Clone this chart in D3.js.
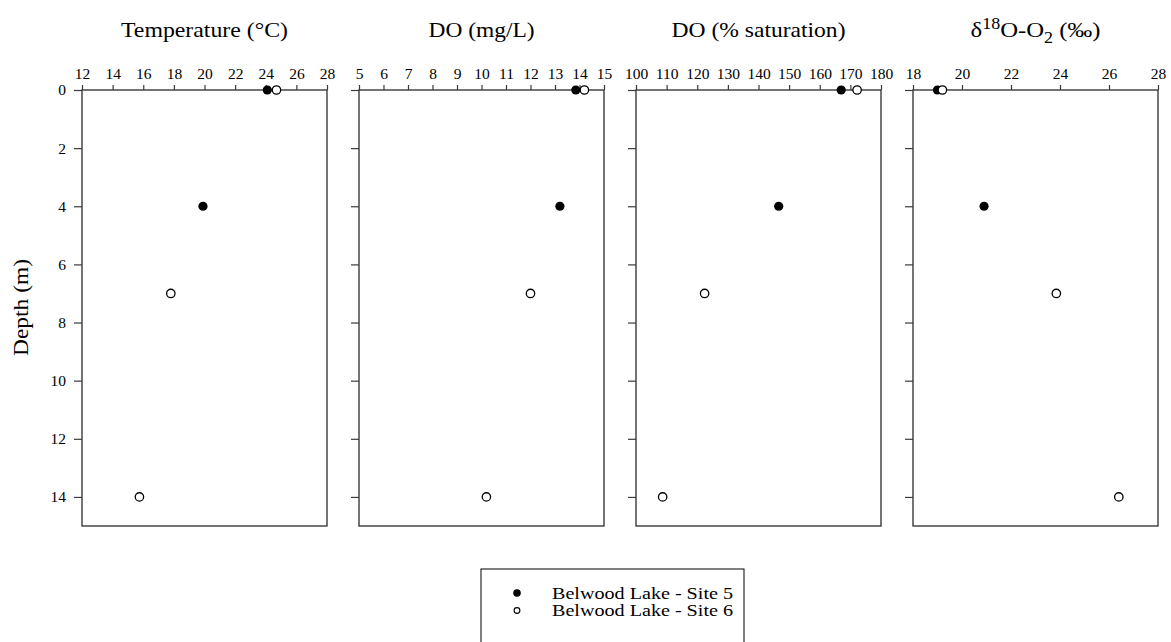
<!DOCTYPE html>
<html>
<head>
<meta charset="utf-8">
<script src="https://cdn.jsdelivr.net/npm/d3@7"></script>
<style>
  body { margin: 0; background: #fff; }
  svg text { font-family: "Liberation Serif", "Times New Roman", serif; fill: #000; }
</style>
</head>
<body>
<script>
// depth (m) of each sample
const depthSite5 = [0, 4];
const depthSite6 = [0, 7, 14];

// values
const tempSite5 = [24.1, 19.9];
const tempSite6 = [24.7, 17.8, 15.75];
const doSite5 = [13.85, 13.2];
const doSite6 = [14.2, 12.0, 10.2];
const satSite5 = [167.0, 146.6];
const satSite6 = [172.2, 122.4, 108.7];
const d18Site5 = [19.0, 20.9];
const d18Site6 = [19.2, 23.85, 26.4];

// tick labels
const tempTicks = [12, 14, 16, 18, 20, 22, 24, 26, 28];
const doTicks = [5, 6, 7, 8, 9, 10, 11, 12, 13, 14, 15];
const satTicks = [100, 110, 120, 130, 140, 150, 160, 170, 180];
const d18Ticks = [18, 20, 22, 24, 26, 28];
const depthTicks = [0, 2, 4, 6, 8, 10, 12, 14];

const seriesNames = ["Belwood Lake - Site 5", "Belwood Lake - Site 6"];

const panels = [
  { title: "Temperature (°C)", tw: 167, ticks: tempTicks, s5: tempSite5, s6: tempSite6 },
  { title: "DO (mg/L)", tw: 106, ticks: doTicks, s5: doSite5, s6: doSite6 },
  { title: "DO (% saturation)", tw: 174, ticks: satTicks, s5: satSite5, s6: satSite6 },
  { title: "d18", tw: 130, ticks: d18Ticks, s5: d18Site5, s6: d18Site6 }
];

const W = 1171, H = 642;
const plotTop = 90, plotBottom = 526;
const panelW = 245, panelStep = 277, firstLeft = 82;
const lineCol = "#3a3a3a";
const serif = "'Liberation Serif', 'Times New Roman', serif";

const svg = d3.select("body").append("svg")
    .attr("width", W)
    .attr("height", H);

const y = d3.scaleLinear().domain([0, 15]).range([plotTop, plotBottom]);

panels.forEach(function(p, i) {
  const left = firstLeft + i * panelStep;
  const x = d3.scaleLinear()
      .domain([p.ticks[0], p.ticks[p.ticks.length - 1]])
      .range([0, panelW]);

  const g = svg.append("g").attr("transform", "translate(" + left + ",0)");

  // top axis
  const xAx = g.append("g")
      .attr("transform", "translate(0," + plotTop + ")")
      .call(d3.axisTop(x).tickValues(p.ticks).tickSize(5).tickSizeOuter(0).tickPadding(6));
  xAx.attr("font-family", serif).attr("font-size", 15.5);
  xAx.select(".domain").remove();
  xAx.selectAll("line").attr("stroke", lineCol).attr("stroke-width", 1.2);

  // left axis (labels only on first panel)
  const yAx = g.append("g")
      .call(d3.axisLeft(y).tickValues(depthTicks).tickSize(8).tickPadding(8)
        .tickFormat(i === 0 ? d3.format("d") : ""));
  yAx.attr("font-family", serif).attr("font-size", 15.5);
  yAx.select(".domain").remove();
  yAx.selectAll("line").attr("stroke", lineCol).attr("stroke-width", 1.2);

  // frame
  g.append("rect")
      .attr("x", 0).attr("y", plotTop)
      .attr("width", panelW).attr("height", plotBottom - plotTop)
      .attr("fill", "none").attr("stroke", lineCol).attr("stroke-width", 1.4);

  // points
  g.selectAll(".s5").data(p.s5).join("circle")
      .attr("class", "s5")
      .attr("cx", d => x(d))
      .attr("cy", (d, k) => y(depthSite5[k]))
      .attr("r", 4.6)
      .attr("fill", "#000");
  g.selectAll(".s6").data(p.s6).join("circle")
      .attr("class", "s6")
      .attr("cx", d => x(d))
      .attr("cy", (d, k) => y(depthSite6[k]))
      .attr("r", 4.2)
      .attr("fill", "#fff")
      .attr("stroke", "#000")
      .attr("stroke-width", 1.3);

  // title
  const t = g.append("text")
      .attr("x", panelW / 2 - p.tw / 2)
      .attr("y", 37)
      .attr("textLength", p.tw)
      .attr("lengthAdjust", "spacingAndGlyphs")
      .style("font-size", "22px");
  if (p.title === "d18") {
    t.append("tspan").text("δ");
    t.append("tspan").attr("dy", -8).style("font-size", "16px").text("18");
    t.append("tspan").attr("dy", 8).text("O-O");
    t.append("tspan").attr("dy", 6).style("font-size", "16px").text("2");
    t.append("tspan").attr("dy", -6).text(" (‰)");
  } else {
    t.text(p.title);
  }
});

// y axis title
svg.append("text")
    .attr("transform", "translate(28," + ((plotTop + plotBottom) / 2 + 48) + ") rotate(-90)")
    .attr("textLength", 97)
    .attr("lengthAdjust", "spacingAndGlyphs")
    .style("font-size", "22px")
    .text("Depth (m)");

// legend
const lg = svg.append("g");
lg.append("rect")
    .attr("x", 481).attr("y", 569)
    .attr("width", 263).attr("height", 80)
    .attr("fill", "#fff").attr("stroke", "#000").attr("stroke-width", 1);
seriesNames.forEach(function(name, k) {
  const cy = 593 + k * 17.5;
  lg.append("circle")
      .attr("cx", 517).attr("cy", cy)
      .attr("r", k === 0 ? 3.2 : 2.9)
      .attr("fill", k === 0 ? "#000" : "#fff")
      .attr("stroke", "#000").attr("stroke-width", 1.1);
  lg.append("text")
      .attr("x", 552).attr("y", cy + 5.5)
      .attr("textLength", 181)
      .attr("lengthAdjust", "spacingAndGlyphs")
      .style("font-size", "17px")
      .text(name);
});
</script>
</body>
</html>
